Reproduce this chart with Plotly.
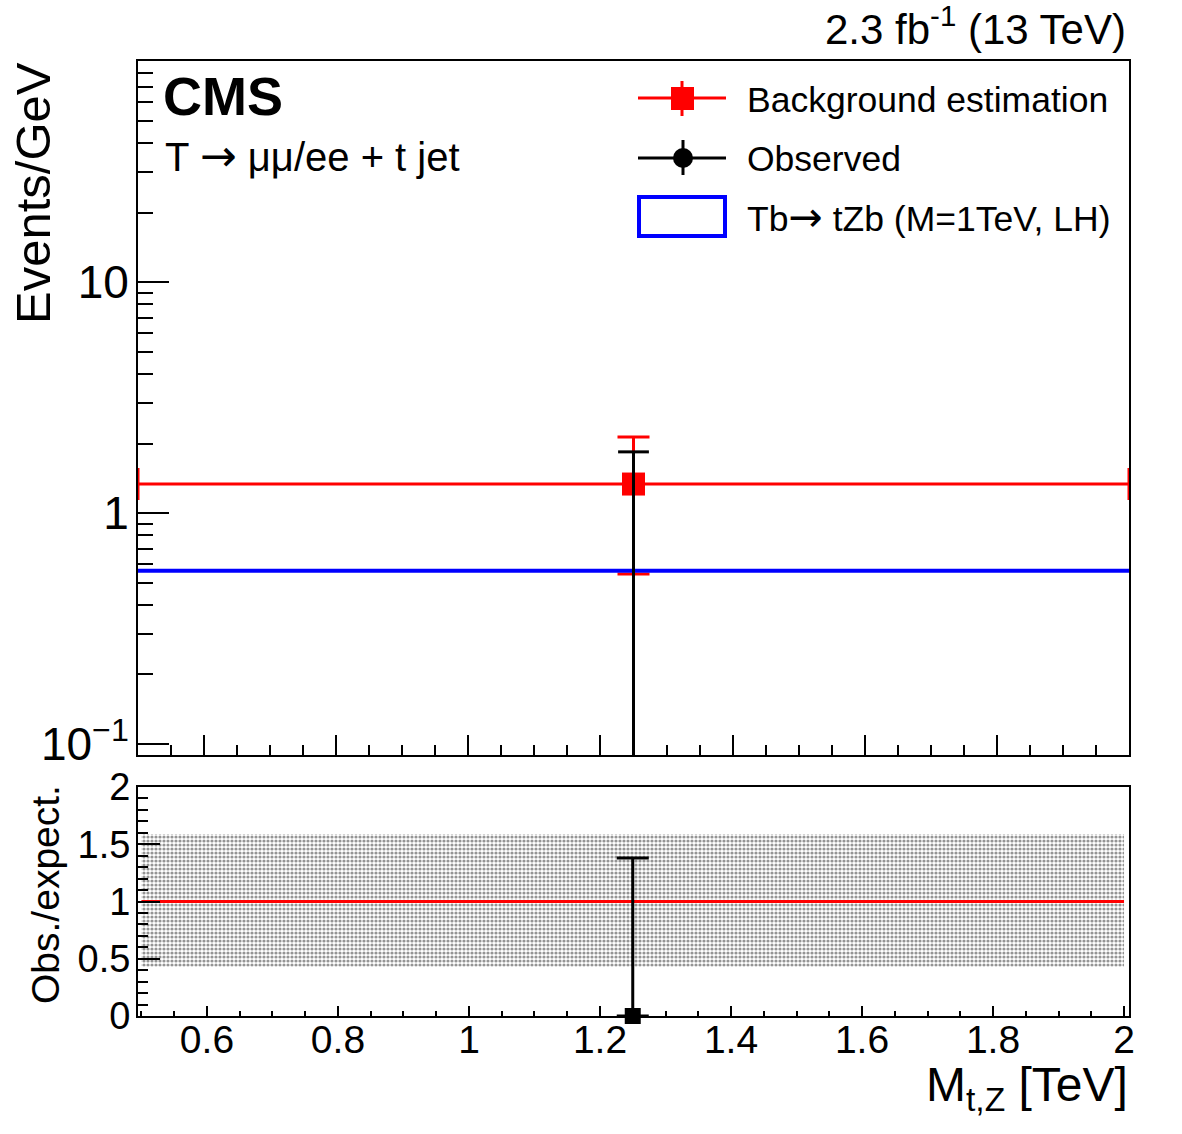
import plotly.graph_objects as go
import math

# ---------------- data ----------------
bin_edges = [0.5, 2.0]          # M_tZ bin edges [TeV]
bin_center = [1.25]
bkg = [1.335]                   # background estimation, events/GeV
bkg_err_up = [0.80]
bkg_err_down = [0.79]
obs = [0.0]                     # observed
obs_err_up = [1.84]
signal = [0.562]                # Tb -> tZb (M=1TeV, LH)
ratio = [0.0]                   # obs./expect.
ratio_err_up = [1.38]
band_low = [0.43]               # background uncertainty band in ratio
band_high = [1.59]

top_y_tickvals = [0.1, 1, 10]
top_y_ticktext = ["10<sup>\u22121</sup>", "1", "10"]
top_y_minor = [0.09, 0.2, 0.3, 0.4, 0.5, 0.6, 0.7, 0.8, 0.9,
               2, 3, 4, 5, 6, 7, 8, 9, 20, 30, 40, 50, 60, 70, 80, 90]
ratio_y_tickvals = [0, 0.5, 1, 1.5, 2]
ratio_y_ticktext = ["0", "0.5", "1", "1.5", "2"]
x_tickvals = [0.6, 0.8, 1.0, 1.2, 1.4, 1.6, 1.8, 2.0]
x_ticktext = ["0.6", "0.8", "1", "1.2", "1.4", "1.6", "1.8", "2"]

# ---------------- geometry helpers ----------------
W, H = 1182, 1134
FONT = "Liberation Sans, Arial, Helvetica, sans-serif"


def arrow(size):
    return ('<span style="font-family:DejaVu Sans;font-size:%dpx">\u2192</span>' % size)


def px(x):
    return x / W


def py(y):
    return 1 - y / H


fig = go.Figure()

# ---------------- top panel ----------------
fig.add_trace(go.Scatter(
    x=bin_center, y=bkg, mode="markers", xaxis="x", yaxis="y",
    marker=dict(symbol="square", size=23, color="#ff0000"),
    error_x=dict(type="data", array=[(bin_edges[1] - bin_edges[0]) / 2],
                 color="#ff0000", thickness=3, width=16),
    error_y=dict(type="data", symmetric=False, array=bkg_err_up,
                 arrayminus=bkg_err_down, color="#ff0000", thickness=3, width=16),
    showlegend=False, hoverinfo="skip"))

fig.add_trace(go.Scatter(
    x=bin_edges, y=[signal[0], signal[0]], mode="lines", xaxis="x", yaxis="y",
    line=dict(color="#0000ff", width=4), showlegend=False, hoverinfo="skip"))

obs_top = [o + e for o, e in zip(obs, obs_err_up)]
fig.add_trace(go.Scatter(
    x=bin_center, y=obs_top, mode="markers", xaxis="x", yaxis="y",
    marker=dict(symbol="line-ew", size=22, color="black",
                line=dict(color="black", width=3)),
    error_y=dict(type="data", symmetric=False, array=[0], arrayminus=obs_err_up,
                 color="black", thickness=3, width=0),
    showlegend=False, hoverinfo="skip"))

# ---------------- ratio panel ----------------
fig.add_trace(go.Scatter(
    x=[bin_edges[0], bin_edges[1], bin_edges[1], bin_edges[0], bin_edges[0]],
    y=[band_low[0], band_low[0], band_high[0], band_high[0], band_low[0]],
    mode="lines", fill="toself", xaxis="x2", yaxis="y2",
    line=dict(width=0), fillcolor="white",
    fillpattern=dict(shape=".", fgcolor="#2a2a2a", bgcolor="white",
                     size=4, solidity=0.5),
    showlegend=False, hoverinfo="skip"))

fig.add_trace(go.Scatter(
    x=bin_edges, y=[1, 1], mode="lines", xaxis="x2", yaxis="y2",
    line=dict(color="#ff0000", width=3), showlegend=False, hoverinfo="skip"))

fig.add_trace(go.Scatter(
    x=bin_center, y=ratio, mode="markers", xaxis="x2", yaxis="y2",
    marker=dict(symbol="square", size=16, color="black"),
    error_y=dict(type="data", symmetric=False, array=ratio_err_up, arrayminus=[0],
                 color="black", thickness=3, width=16),
    cliponaxis=False, showlegend=False, hoverinfo="skip"))

# ---------------- axes ----------------
xdom = [px(138), px(1129)]
common_axis = dict(showgrid=False, zeroline=False, showline=True, linecolor="black",
                   linewidth=2, mirror=True, tickcolor="black", tickwidth=2,
                   automargin=False)

fig.update_layout(
    width=W, height=H, margin=dict(l=0, r=0, t=0, b=0, pad=0, autoexpand=False),
    paper_bgcolor="white", plot_bgcolor="white",
    font=dict(family=FONT, color="black"),
    showlegend=False,
    xaxis=dict(domain=xdom, anchor="y", range=[0.5, 2.0],
               tickmode="array", tickvals=x_tickvals, ticks="inside", ticklen=20,
               showticklabels=False,
               minor=dict(ticks="inside", ticklen=10, dtick=0.05, tick0=0,
                          tickcolor="black", tickwidth=2),
               **common_axis),
    yaxis=dict(domain=[py(755), py(61)], anchor="x", type="log",
               range=[math.log10(0.0896), math.log10(90.6)],
               tickmode="array", tickvals=top_y_tickvals, ticktext=top_y_ticktext,
               ticks="inside", ticklen=31, tickfont=dict(size=46),
               ticklabelstandoff=-2,
               minor=dict(ticks="inside", ticklen=15, tickmode="array",
                          tickvals=top_y_minor, tickcolor="black", tickwidth=2),
               **common_axis),
    xaxis2=dict(domain=xdom, anchor="y2", range=[0.4947, 2.0076],
                tickmode="array", tickvals=x_tickvals, ticktext=x_ticktext,
                ticks="inside", ticklen=10, tickfont=dict(size=39),
                ticklabelstandoff=-12,
                minor=dict(ticks="inside", ticklen=5, dtick=0.05, tick0=0,
                           tickcolor="black", tickwidth=2),
                **common_axis),
    yaxis2=dict(domain=[py(1016), py(787)], anchor="x2", range=[0, 2],
                tickmode="array", tickvals=ratio_y_tickvals, ticktext=ratio_y_ticktext,
                ticks="inside", ticklen=22, tickfont=dict(size=38),
                ticklabelstandoff=-2,
                minor=dict(ticks="inside", ticklen=10, dtick=0.1, tick0=0,
                           tickcolor="black", tickwidth=2),
                **common_axis),
)

# ---------------- texts ----------------
ann = []
ann.append(dict(text="<b>CMS</b>", x=px(161), y=py(96), xanchor="left", yanchor="middle",
                font=dict(size=54)))
ann.append(dict(text="T " + arrow(44) + " \u03bc\u03bc/ee + t jet", x=px(163), y=py(155),
                xanchor="left", yanchor="middle", font=dict(size=40)))
ann.append(dict(text="2.3 fb<sup>-1</sup> (13 TeV)", x=px(1128), y=py(26),
                xanchor="right", yanchor="middle", font=dict(size=42)))
ann.append(dict(text="Events/GeV", x=px(4), y=py(60), xanchor="left", yanchor="top",
                textangle=-90, font=dict(size=49)))
ann.append(dict(text="Obs./expect.", x=px(22), y=py(783), xanchor="left", yanchor="top",
                textangle=-90, font=dict(size=39)))
ann.append(dict(text="M<sub>t,Z</sub> [TeV]", x=px(1130), y=py(1088),
                xanchor="right", yanchor="middle", font=dict(size=48)))

# legend texts
ann.append(dict(text="Background estimation", x=px(745), y=py(99.5), xanchor="left",
                yanchor="middle", font=dict(size=35.5)))
ann.append(dict(text="Observed", x=px(745), y=py(159), xanchor="left",
                yanchor="middle", font=dict(size=35.5)))
ann.append(dict(text="Tb" + arrow(41) + " tZb (M=1TeV, LH)", x=px(745), y=py(217),
                xanchor="left", yanchor="middle", font=dict(size=35.5)))
for a in ann:
    a.update(xref="paper", yref="paper", showarrow=False)
fig.update_layout(annotations=ann)

# legend symbols
shapes = []
# background: line + vertical bar + square
shapes.append(dict(type="line", x0=px(638), x1=px(726), y0=py(98), y1=py(98),
                   line=dict(color="#ff0000", width=3)))
shapes.append(dict(type="line", x0=px(682), x1=px(682), y0=py(81), y1=py(116),
                   line=dict(color="#ff0000", width=3)))
shapes.append(dict(type="rect", x0=px(671), x1=px(694), y0=py(87), y1=py(110),
                   line=dict(width=0), fillcolor="#ff0000"))
# observed: line + vertical bar + circle
shapes.append(dict(type="line", x0=px(638), x1=px(726), y0=py(158), y1=py(158),
                   line=dict(color="black", width=3)))
shapes.append(dict(type="line", x0=px(683), x1=px(683), y0=py(140), y1=py(175),
                   line=dict(color="black", width=3)))
shapes.append(dict(type="circle", x0=px(673), x1=px(693), y0=py(148), y1=py(168),
                   line=dict(width=0), fillcolor="black"))
# signal: blue box
shapes.append(dict(type="rect", x0=px(639), x1=px(725), y0=py(197), y1=py(236),
                   line=dict(color="#0000ff", width=4), fillcolor="rgba(0,0,0,0)"))
for s in shapes:
    s.update(xref="paper", yref="paper")
fig.update_layout(shapes=shapes)

fig.write_html("out.html")
